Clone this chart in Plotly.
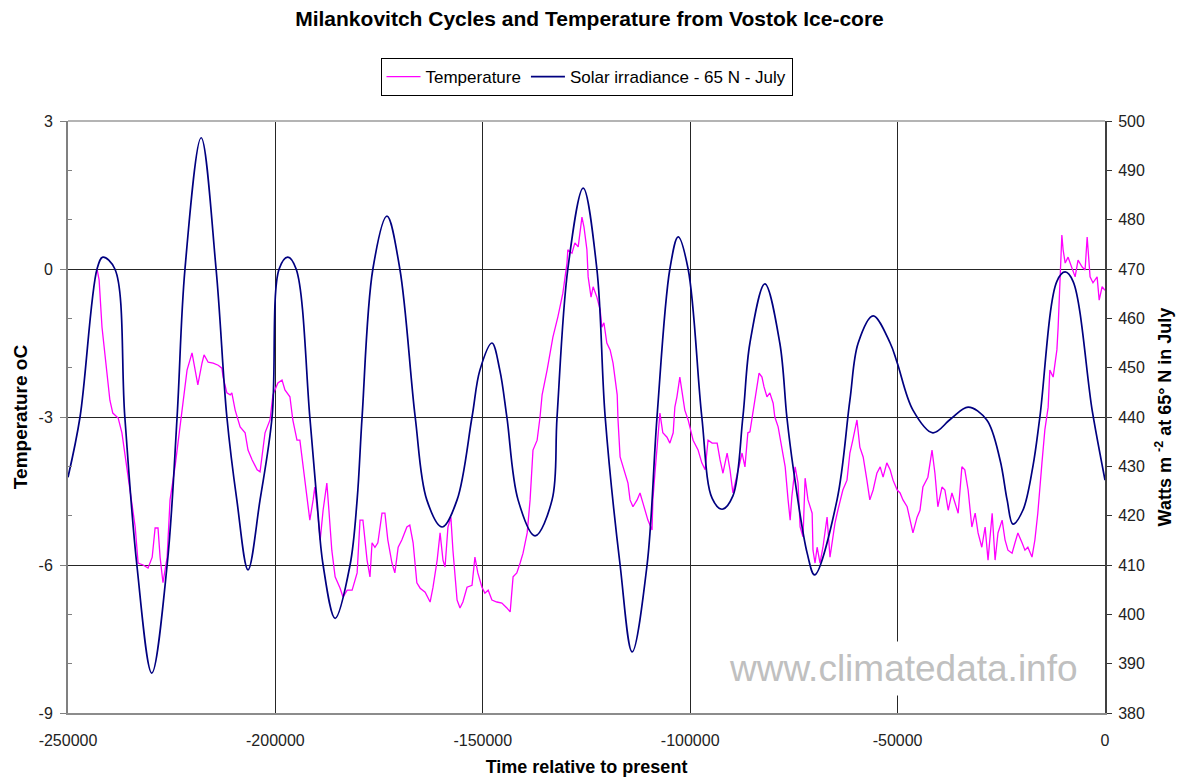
import plotly.graph_objects as go

# ---------------- data ----------------
temp_years = [
    -243000, -242500, -241800, -240600, -239900, -239200, -237900, -237000, -235800, -234600,
    -233800, -233100, -231900, -230700, -229700, -229000, -228300, -227800, -227100, -226100,
    -225400, -224200, -223000, -222300, -221300, -220100, -219400, -218700, -217700, -217200,
    -216200, -215000, -213800, -212900, -212600, -211700, -210900, -210500, -209700, -208500,
    -207300, -206600, -205600, -204400, -203700, -203000, -202500, -201300, -200600, -199400,
    -198400, -197700, -196500, -195800, -194800, -194100, -193300, -192400, -191700, -190900,
    -190500, -189700, -189200, -188500, -187600, -187100, -186400, -185600, -184400, -183700,
    -182700, -181500, -180300, -179600, -178900, -177900, -177200, -176700, -176000, -175300,
    -174300, -173600, -172900, -171900, -171200, -170400, -169500, -168300, -167600, -166800,
    -165900, -165100, -163900, -162700, -162000, -161000, -160300, -159600, -159100, -158400,
    -157700, -157200, -156200, -155500, -154800, -153800, -152600, -151900, -151200, -150200,
    -149500, -148700, -147800, -146600, -145400, -144200, -143400, -142700, -141800, -141000,
    -140300, -139300, -138600, -137900, -136900, -136200, -135700, -134500, -133100, -131900,
    -130700, -129700, -129500, -128500, -127800, -127000, -126100, -125600, -124900, -124600,
    -123900, -123400, -122500, -121700, -121300, -120800, -120100, -119300, -118600, -117600,
    -117400, -116900, -116200, -115000, -114500, -113800, -112800, -112100, -111400, -110400,
    -110200, -109200, -109000, -108500, -107800, -107300, -106600, -105600, -104900, -104100,
    -103700, -103200, -102500, -101700, -101300, -100500, -99300, -98100, -97200, -96400,
    -95700, -94700, -93500, -92800, -92100, -91100, -90400, -89700, -88500, -87500,
    -86800, -86100, -85600, -84400, -83400, -82700, -82200, -81500, -80800, -80000,
    -79600, -78800, -77900, -77100, -76400, -75900, -75500, -74700, -74000, -73500,
    -72800, -72300, -71600, -70600, -70400, -69900, -69400, -68700, -68000, -67000,
    -66300, -65100, -64400, -63200, -62200, -61500, -60800, -59800, -59100, -58300,
    -57400, -56700, -55900, -55000, -54200, -53500, -52600, -51800, -51100, -50100,
    -49400, -48700, -47700, -47000, -46300, -45300, -44600, -43900, -42700, -41700,
    -41000, -40300, -39300, -38600, -37800, -36900, -36200, -35400, -34500, -33800,
    -33000, -32100, -31300, -30600, -29700, -28900, -28200, -27200, -26500, -25800,
    -24800, -24100, -23400, -22400, -21700, -21000, -20000, -19300, -18600, -17600,
    -16900, -16200, -15200, -14500, -13700, -13300, -12500, -11600, -11300, -10800,
    -10400, -10100, -9600, -8900, -8000, -7200, -6500, -5500, -4800, -4300,
    -3600, -2900, -1900, -1400, -700, 0,
]
temperature = [
    0.00, -0.22, -1.18, -2.19, -2.66, -2.92, -3.02, -3.32, -4.01, -4.68,
    -5.23, -5.96, -6.00, -6.06, -5.84, -5.25, -5.25, -5.84, -6.36, -5.84,
    -4.68, -4.01, -3.20, -2.66, -2.05, -1.70, -2.05, -2.35, -1.91, -1.74,
    -1.89, -1.91, -1.95, -2.01, -2.19, -2.51, -2.55, -2.51, -2.86, -3.20,
    -3.32, -3.67, -3.87, -4.07, -4.11, -3.67, -3.32, -3.06, -2.55, -2.31,
    -2.25, -2.45, -2.59, -3.06, -3.47, -3.47, -4.01, -4.54, -5.09, -4.68,
    -4.42, -5.03, -5.49, -4.89, -4.34, -4.89, -5.70, -6.24, -6.47, -6.65,
    -6.51, -6.51, -6.16, -5.09, -5.09, -5.90, -6.24, -5.55, -5.64, -5.55,
    -4.95, -4.95, -5.49, -5.96, -6.16, -5.64, -5.49, -5.23, -5.19, -5.55,
    -6.36, -6.47, -6.55, -6.75, -6.45, -5.90, -5.35, -5.90, -6.04, -5.23,
    -5.03, -5.70, -6.71, -6.87, -6.75, -6.45, -6.41, -5.84, -6.16, -6.45,
    -6.57, -6.51, -6.71, -6.75, -6.77, -6.87, -6.95, -6.24, -6.16, -5.96,
    -5.76, -5.35, -4.68, -3.67, -3.47, -3.00, -2.55, -2.05, -1.38, -0.97,
    -0.49, 0.12, 0.39, 0.32, 0.53, 0.45, 1.05, 0.85, 0.39, -0.16,
    -0.57, -0.36, -0.57, -0.83, -1.18, -1.09, -1.50, -1.64, -1.91, -2.55,
    -3.06, -3.81, -4.01, -4.34, -4.68, -4.82, -4.68, -4.54, -4.74, -5.03,
    -5.09, -5.29, -4.68, -4.14, -3.47, -2.92, -3.32, -3.41, -3.53, -3.32,
    -2.80, -2.59, -2.19, -2.59, -2.86, -3.06, -3.47, -3.67, -3.93, -4.07,
    -3.47, -3.53, -3.53, -3.87, -4.14, -3.73, -4.07, -4.54, -4.07, -3.73,
    -4.01, -3.32, -3.30, -2.66, -2.11, -2.19, -2.39, -2.59, -2.51, -2.72,
    -3.00, -3.20, -3.67, -4.01, -4.68, -5.09, -4.62, -4.01, -4.34, -5.23,
    -5.43, -4.24, -4.68, -4.95, -5.70, -5.96, -5.64, -5.96, -5.64, -5.03,
    -5.84, -5.15, -4.89, -4.48, -4.28, -3.73, -3.47, -3.06, -3.61, -3.81,
    -4.28, -4.68, -4.48, -4.14, -4.01, -4.22, -3.93, -4.07, -4.28, -4.48,
    -4.54, -4.68, -4.82, -5.09, -5.35, -5.03, -4.89, -4.42, -4.22, -3.67,
    -4.14, -4.82, -4.42, -4.48, -4.89, -4.54, -4.74, -4.95, -4.01, -4.07,
    -4.48, -5.23, -4.95, -5.35, -5.64, -5.23, -5.90, -4.95, -5.90, -5.35,
    -5.09, -5.49, -5.70, -5.76, -5.55, -5.35, -5.55, -5.70, -5.64, -5.84,
    -5.49, -4.95, -3.93, -3.26, -2.80, -2.05, -2.19, -1.64, -1.18, -0.02,
    0.69, 0.39, 0.12, 0.24, 0.04, -0.16, 0.18, 0.04, -0.02, 0.65,
    -0.16, -0.28, -0.16, -0.63, -0.36, -0.43,
]

solar_years = [
    -250000, -247100, -243000, -241600, -238700, -236300, -233400, -229800, -226100, -223700,
    -221800, -217900, -214300, -211700, -209300, -206600, -203700, -200800, -199100, -197000,
    -195000, -191700, -190000, -188500, -185600, -182000, -180300, -179100, -176500, -173100,
    -170000, -166300, -163500, -159800, -156200, -152600, -150700, -147800, -145900, -144200,
    -141500, -137400, -133300, -132100, -129500, -125800, -122500, -120500, -116900, -114000,
    -110400, -108000, -104900, -102900, -100500, -97200, -94700, -92300, -89700, -87300,
    -85600, -82000, -78400, -76700, -75200, -71800, -70000, -64600, -61500, -59500,
    -55900, -51800, -50100, -46300, -41500, -37200, -33000, -28500, -25300, -23600,
    -22200, -19800, -17400, -15700, -11600, -9600, -7700, -3100, -700, 0,
]
solar_irradiance = [
    427.8, 440.0, 470.0, 472.4, 470.0, 440.0, 410.0, 388.1, 410.0, 440.0,
    470.0, 496.6, 470.0, 440.0, 423.2, 409.0, 423.2, 440.0, 470.0, 472.4,
    470.0, 440.0, 423.2, 410.0, 399.2, 410.0, 423.2, 440.0, 470.0, 480.7,
    470.0, 440.0, 423.2, 417.7, 423.2, 440.0, 449.5, 455.0, 449.5, 440.0,
    423.2, 415.9, 423.2, 440.0, 470.0, 486.4, 470.0, 440.0, 410.0, 392.4,
    410.0, 440.0, 470.0, 476.5, 470.0, 440.0, 423.5, 421.3, 424.0, 440.0,
    455.0, 467.0, 455.0, 440.0, 429.9, 412.4, 408.0, 423.2, 443.4, 455.0,
    460.5, 455.0, 451.0, 441.4, 436.8, 439.6, 442.0, 439.4, 431.3, 423.2,
    418.3, 421.1, 429.9, 440.0, 467.5, 469.4, 467.5, 441.4, 430.3, 427.2,
]

x_tick_values = [-250000, -200000, -150000, -100000, -50000, 0]
x_tick_labels = ["-250000", "-200000", "-150000", "-100000", "-50000", "0"]
temp_tick_values = [-9, -6, -3, 0, 3]
temp_tick_labels = ["-9", "-6", "-3", "0", "3"]
temp_minor_values = [-8, -7, -5, -4, -2, -1, 1, 2]
watt_tick_values = list(range(380, 501, 10))

# ---------------- figure ----------------
FONT = "Liberation Sans, Arial, Helvetica, sans-serif"
TICK_COLOR = "#222222"
GRID = "#262626"

fig = go.Figure()
fig.add_trace(go.Scatter(
    x=temp_years, y=temperature, name="Temperature", mode="lines",
    line=dict(color="#FF00FF", width=1.3), yaxis="y",
))
fig.add_trace(go.Scatter(
    x=solar_years, y=solar_irradiance, name="Solar irradiance - 65 N - July",
    mode="lines", line=dict(color="#000080", width=1.7, shape="spline", smoothing=1.0),
    yaxis="y2",
))

fig.update_layout(
    width=1179, height=778,
    margin=dict(l=68, r=74, t=121, b=65, autoexpand=False),
    paper_bgcolor="white", plot_bgcolor="white",
    font=dict(family=FONT, color=TICK_COLOR, size=16),
    title=dict(
        text="Milankovitch Cycles and Temperature from Vostok Ice-core",
        x=0.5, xanchor="center", xref="container",
        y=1 - 19 / 778, yanchor="middle", yref="container",
        font=dict(family=FONT, size=21, color="black", weight="bold"),
    ),
    showlegend=True,
    legend=dict(
        orientation="h", x=0.5, xanchor="center", xref="paper",
        y=1 - 58 / 778, yanchor="top", yref="container",
        bordercolor="black", borderwidth=1, bgcolor="white",
        font=dict(family=FONT, size=17, color="black"),
        itemwidth=34,
    ),
    xaxis=dict(
        range=[-250000, 0], tickmode="array", tickvals=x_tick_values, ticktext=x_tick_labels,
        showgrid=True, gridcolor=GRID, gridwidth=1, zeroline=False,
        showline=True, linecolor="#8c8c8c", linewidth=2, ticks="",
        ticklabelstandoff=12, automargin=False,
        tickfont=dict(family=FONT, size=16, color=TICK_COLOR),
        title=dict(text="Time relative to present", standoff=12,
                   font=dict(family=FONT, size=18, color="black", weight="bold")),
    ),
    yaxis=dict(
        range=[-9, 3], tickmode="array", tickvals=temp_tick_values, ticktext=temp_tick_labels,
        ticks="outside", ticklen=6, tickcolor="#808080", tickwidth=1,
        showline=True, linecolor="#808080", linewidth=2,
        showgrid=True, gridcolor=GRID, gridwidth=1, zeroline=False,
        minor=dict(tickmode="array", tickvals=temp_minor_values, ticks="inside",
                   ticklen=4, tickcolor="#808080", showgrid=False),
        ticklabelstandoff=4, automargin=False,
        tickfont=dict(family=FONT, size=16, color=TICK_COLOR),
        title=dict(text="Temperature oC", standoff=6,
                   font=dict(family=FONT, size=19, color="black", weight="bold")),
    ),
    yaxis2=dict(
        range=[380, 500], overlaying="y", side="right", anchor="x",
        tickmode="array", tickvals=watt_tick_values,
        ticks="outside", ticklen=5, tickcolor="#333333",
        showline=True, linecolor="#404040", linewidth=2,
        showgrid=False, zeroline=False,
        ticklabelstandoff=3, automargin=False,
        tickfont=dict(family=FONT, size=16, color=TICK_COLOR),
        title=dict(text="Watts m <sup>-2</sup> at 65° N in July", standoff=14,
                   font=dict(family=FONT, size=18, color="black", weight="bold")),
    ),
    yaxis3=dict(
        range=[380, 500], overlaying="y", side="right", anchor="x",
        tickmode="array", tickvals=watt_tick_values,
        ticks="inside", ticklen=5, tickcolor="#333333", automargin=False,
        showticklabels=False, showline=False, showgrid=False, zeroline=False,
    ),
    shapes=[dict(type="line", xref="paper", yref="paper", x0=0, x1=1, y0=1, y1=1,
                 line=dict(color="#b4b4b4", width=2), layer="above")],
    annotations=[dict(
        text="www.climatedata.info", xref="paper", yref="paper",
        x=(903 - 68) / 1037, y=(713 - 668) / 592, xanchor="center", yanchor="middle",
        showarrow=False, bgcolor="white", borderpad=6,
        font=dict(family=FONT, size=37, color="#c0c0c0"),
    )],
)

fig.write_html(
    "out.html",
    config={"displayModeBar": False},
    post_script="document.body.style.margin='0';document.body.style.overflow='hidden';",
)
